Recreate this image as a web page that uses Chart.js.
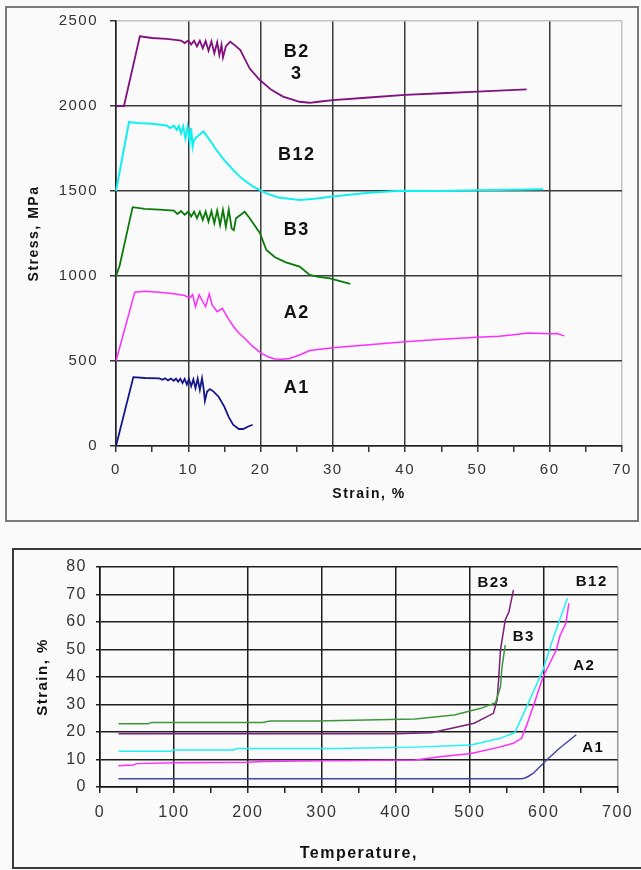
<!DOCTYPE html>
<html>
<head>
<meta charset="utf-8">
<script src="https://cdn.jsdelivr.net/npm/chart.js@4.4.0/dist/chart.umd.min.js"></script>
<style>
  html, body { margin: 0; padding: 0; background: #fafafa; }
  body { width: 641px; height: 870px; position: relative; overflow: hidden; }
  .frame { position: absolute; box-sizing: border-box; }
  #frameTop { left: 5px; top: 6px; width: 634px; height: 516px; border: 2px solid #7a7a7a; }
  #frameBottom { left: 12px; top: 548px; width: 700px; height: 321px; border: 2px solid #3a3a3a; }
  canvas { position: absolute; left: 0; }
  #stressChart { top: 0; }
  #tempChart { top: 540px; }
</style>
</head>
<body>
<div class="frame" id="frameTop"></div>
<div class="frame" id="frameBottom"></div>
<canvas id="stressChart" width="641" height="530"></canvas>
<canvas id="tempChart" width="641" height="330"></canvas>
<script>
// ---- stress / strain curves (strain %, stress MPa) ----
const a1Strain = [0, 2.4, 4, 6, 6.4, 6.8, 7.2, 7.6, 8, 8.3, 8.6, 8.9, 9.2, 9.5, 9.8, 10.1, 10.4, 10.7, 11, 11.3, 11.6, 11.9, 12.1, 12.3, 12.6, 13, 13.5, 14.2, 15, 15.6, 16.2, 17, 17.6, 18.3, 18.9];
const a1Stress = [0, 405, 400, 398, 390, 398, 386, 397, 384, 396, 378, 396, 370, 395, 362, 394, 352, 392, 340, 396, 330, 398, 345, 265, 320, 335, 320, 290, 230, 170, 125, 100, 100, 115, 125];

const a2Strain = [0, 2.6, 4, 6, 8, 9.5, 10.2, 10.6, 11, 11.5, 12, 12.4, 12.9, 13.3, 14, 14.7, 15.6, 16.3, 17, 18, 18.8, 20.1, 21.2, 22, 23, 24, 25.4, 26.8, 30, 35, 40, 45, 50, 53, 55, 57, 59, 60, 61, 62];
const a2Stress = [500, 905, 910, 905, 895, 885, 870, 890, 820, 890, 850, 820, 895, 830, 790, 810, 745, 700, 665, 625, 590, 545, 522, 512, 510, 515, 535, 562, 578, 595, 613, 628, 639, 645, 655, 665, 662, 660, 662, 648];

const b3Strain = [0, 0.5, 2.3, 4, 6, 8, 8.5, 9, 9.5, 10, 10.4, 10.8, 11.2, 11.6, 12, 12.4, 12.8, 13.2, 13.6, 14, 14.4, 14.8, 15.2, 15.6, 16, 16.3, 16.6, 17.8, 18.5, 19.9, 20.8, 22, 23.5, 25.4, 26.8, 28, 29.6, 31, 32.4];
const b3Stress = [1000, 1060, 1405, 1395, 1390, 1385, 1365, 1382, 1360, 1378, 1350, 1378, 1340, 1378, 1330, 1380, 1320, 1382, 1310, 1385, 1300, 1388, 1290, 1390, 1280, 1270, 1340, 1378, 1340, 1253, 1153, 1110, 1080, 1055, 1006, 995, 986, 970, 953];

const b12Strain = [0, 1.8, 3, 5, 7, 7.5, 8, 8.4, 8.7, 9, 9.3, 9.6, 9.9, 10.2, 10.4, 10.6, 10.8, 11.2, 12.1, 12.8, 13.9, 15, 16.2, 17.5, 19, 20.8, 22.5, 25.4, 27.5, 29.6, 35, 39.3, 45, 50, 55, 59.1];
const b12Stress = [1500, 1905, 1900, 1895, 1885, 1870, 1884, 1860, 1882, 1840, 1880, 1810, 1878, 1790, 1870, 1760, 1800, 1820, 1850, 1810, 1741, 1680, 1624, 1570, 1525, 1486, 1462, 1447, 1455, 1466, 1490, 1502, 1500, 1505, 1508, 1510];

const b23Strain = [0, 1.1, 3.3, 5, 7, 9, 9.5, 10, 10.4, 10.8, 11.2, 11.6, 12, 12.4, 12.8, 13.2, 13.6, 14, 14.3, 14.6, 14.8, 15.2, 15.8, 16.5, 17.2, 18.5, 19.9, 21.5, 23.1, 25.4, 26.8, 28, 30, 35, 40, 45, 50, 53, 56.8];
const b23Stress = [2000, 2000, 2410, 2400, 2395, 2385, 2370, 2385, 2362, 2384, 2350, 2384, 2340, 2382, 2325, 2380, 2310, 2375, 2300, 2360, 2286, 2350, 2378, 2355, 2329, 2220, 2153, 2095, 2055, 2025, 2019, 2025, 2035, 2050, 2065, 2075, 2084, 2090, 2098];

// ---- strain / temperature curves (temperature, strain %) ----
const a1Temp = [25, 570, 575, 580, 586, 604, 621, 644];
const a1Elong = [3, 3, 3.3, 4, 5, 9.8, 14, 19];

const a2Temp = [25, 45, 50, 100, 200, 220, 300, 426, 460, 502, 540, 559, 570, 577, 588, 599, 617, 622, 630, 634];
const a2Elong = [7.7, 8, 8.5, 8.8, 9, 9.3, 9.5, 9.8, 11, 12.2, 14.5, 15.9, 17.7, 22.5, 31, 40, 49.8, 55, 59.5, 66.8];

const b12Temp = [25, 95, 100, 180, 185, 320, 426, 502, 541, 561, 581, 599, 612, 632];
const b12Elong = [13, 13, 13.5, 13.5, 14, 14, 14.5, 15.3, 17.7, 19.8, 31.6, 42.5, 53.5, 68.6];

const b23Temp = [25, 400, 448, 506, 532, 537, 539, 541.5, 548, 553, 559];
const b23Elong = [19.4, 19.4, 19.7, 23.2, 26.8, 31.6, 38.9, 49.8, 60.7, 63.7, 71.6];

const b3Temp = [25, 65, 70, 220, 230, 293, 426, 479, 515, 535, 541.5, 543.7, 548];
const b3Elong = [23, 23, 23.5, 23.5, 24, 24, 24.7, 26.2, 28.6, 30.7, 36.5, 43.8, 51.6];

// curve names and where they are written (data coordinates)
const topNames = [
  { text: 'B2', x: 25, y: 2318 }, { text: '3', x: 25, y: 2190 },
  { text: 'B12', x: 25, y: 1712 }, { text: 'B3', x: 25, y: 1270 },
  { text: 'A2', x: 25, y: 782 }, { text: 'A1', x: 25, y: 341 }
];
const bottomNames = [
  { text: 'B23', x: 532, y: 74.3 }, { text: 'B12', x: 665, y: 74.7 },
  { text: 'B3', x: 573, y: 54.5 }, { text: 'A2', x: 655, y: 44 },
  { text: 'A1', x: 667, y: 14.2 }
];

const FONT = '"Liberation Sans", Arial, sans-serif';

const pts = (xs, ys) => xs.map((x, i) => ({ x: x, y: ys[i] }));
const line = (xs, ys, color, w) => ({
  data: pts(xs, ys), borderColor: color, backgroundColor: color,
  borderWidth: w, showLine: true, pointRadius: 0, tension: 0, clip: 4
});

// canvas letter spacing, the original text is spaced out a bit
const spacing = (px) => ({ id: 'spacing', beforeDraw(chart) { chart.ctx.letterSpacing = px; } });

const curveLabels = {
  id: 'curveLabels',
  afterDatasetsDraw(chart, args, opts) {
    const { ctx, scales: { x, y } } = chart;
    ctx.save();
    ctx.font = opts.font;
    ctx.fillStyle = '#111';
    ctx.textAlign = 'center';
    ctx.textBaseline = 'middle';
    opts.items.forEach(it => ctx.fillText(it.text, x.getPixelForValue(it.x), y.getPixelForValue(it.y)));
    ctx.restore();
  }
};

// Stress vs strain
new Chart(document.getElementById('stressChart'), {
  type: 'scatter',
  data: {
    datasets: [
      line(a1Strain, a1Stress, '#16168c', 1.8),
      line(a2Strain, a2Stress, '#ff2cff', 1.5),
      line(b3Strain, b3Stress, '#0b7a0b', 1.8),
      line(b12Strain, b12Stress, '#10f0f0', 2),
      line(b23Strain, b23Stress, '#80117f', 1.8)
    ]
  },
  options: {
    responsive: false,
    animation: false,
    layout: { padding: { left: 0, top: 21, right: 19, bottom: 0 } },
    plugins: {
      legend: { display: false },
      tooltip: { enabled: false },
      curveLabels: { items: topNames, font: 'bold 18px ' + FONT }
    },
    scales: {
      x: {
        type: 'linear', min: 0, max: 70,
        ticks: {
          stepSize: 5, autoSkip: false, maxRotation: 0, padding: 9,
          color: '#333', font: { family: FONT, size: 15 },
          callback: v => v % 10 === 0 ? String(v) : ''
        },
        grid: {
          color: c => c.tick.value % 10 !== 0 ? 'rgba(0,0,0,0)' : (c.tick.value === 70 ? '#c4c4c4' : '#3a3a3a'),
          lineWidth: 1.5, tickLength: 6, tickColor: '#333', tickWidth: 1.5
        },
        border: { color: '#222', width: 1.5 },
        title: {
          display: true, text: 'Strain, %', color: '#111',
          font: { family: FONT, size: 14, weight: 'bold' }, padding: { top: 0, bottom: 27 }
        },
        afterFit: s => { s.height = 84; }
      },
      y: {
        min: 0, max: 2500,
        ticks: { stepSize: 500, padding: 12, color: '#333', font: { family: FONT, size: 15 }, callback: v => String(v) },
        grid: {
          color: c => c.tick.value === 2500 ? '#c4c4c4' : '#3a3a3a',
          lineWidth: 1.5, tickLength: 6, tickColor: '#333', tickWidth: 1.5
        },
        border: { color: '#222', width: 1.5 },
        title: {
          display: true, text: 'Stress, MPa', color: '#111',
          font: { family: FONT, size: 14, weight: 'bold' }, padding: { top: 26, bottom: 0 }
        },
        afterFit: s => { s.width = 116; }
      }
    }
  },
  plugins: [spacing('1.5px'), curveLabels]
});

// Strain vs temperature
new Chart(document.getElementById('tempChart'), {
  type: 'scatter',
  data: {
    datasets: [
      line(a1Temp, a1Elong, '#4646a6', 1.5),
      line(a2Temp, a2Elong, '#ff2cff', 1.5),
      line(b12Temp, b12Elong, '#22f2f2', 1.5),
      line(b3Temp, b3Elong, '#3a983a', 1.5),
      line(b23Temp, b23Elong, '#7a1f7a', 1.5)
    ]
  },
  options: {
    responsive: false,
    animation: false,
    layout: { padding: { left: 0, top: 27, right: 15, bottom: 0 } },
    plugins: {
      legend: { display: false },
      tooltip: { enabled: false },
      curveLabels: { items: bottomNames, font: 'bold 15px ' + FONT }
    },
    scales: {
      x: {
        type: 'linear', min: 0, max: 700,
        ticks: {
          stepSize: 50, autoSkip: false, maxRotation: 0, padding: 10,
          color: '#333', font: { family: FONT, size: 16 },
          callback: v => v % 100 === 0 ? String(v) : ''
        },
        grid: {
          color: c => c.tick.value % 100 !== 0 ? 'rgba(0,0,0,0)' : (c.tick.value === 700 ? '#9a9a9a' : '#1e1e1e'),
          lineWidth: 1.5, tickLength: 6, tickColor: '#222', tickWidth: 1.5
        },
        border: { color: '#111', width: 1.5 },
        title: {
          display: true, text: 'Temperature,', color: '#111',
          font: { family: FONT, size: 16, weight: 'bold' }, padding: { top: 0, bottom: 7 }
        },
        afterFit: s => { s.height = 83; }
      },
      y: {
        min: 0, max: 80,
        ticks: { stepSize: 10, padding: 9, color: '#333', font: { family: FONT, size: 16 }, callback: v => String(v) },
        grid: { color: '#1e1e1e', lineWidth: 1.5, tickLength: 4, tickColor: '#222', tickWidth: 1.5 },
        border: { color: '#111', width: 1.5 },
        title: {
          display: true, text: 'Strain, %', color: '#111',
          font: { family: FONT, size: 15, weight: 'bold' }, padding: { top: 34, bottom: 0 }
        },
        afterFit: s => { s.width = 100; }
      }
    }
  },
  plugins: [spacing('1.5px'), curveLabels]
});
</script>
</body>
</html>
